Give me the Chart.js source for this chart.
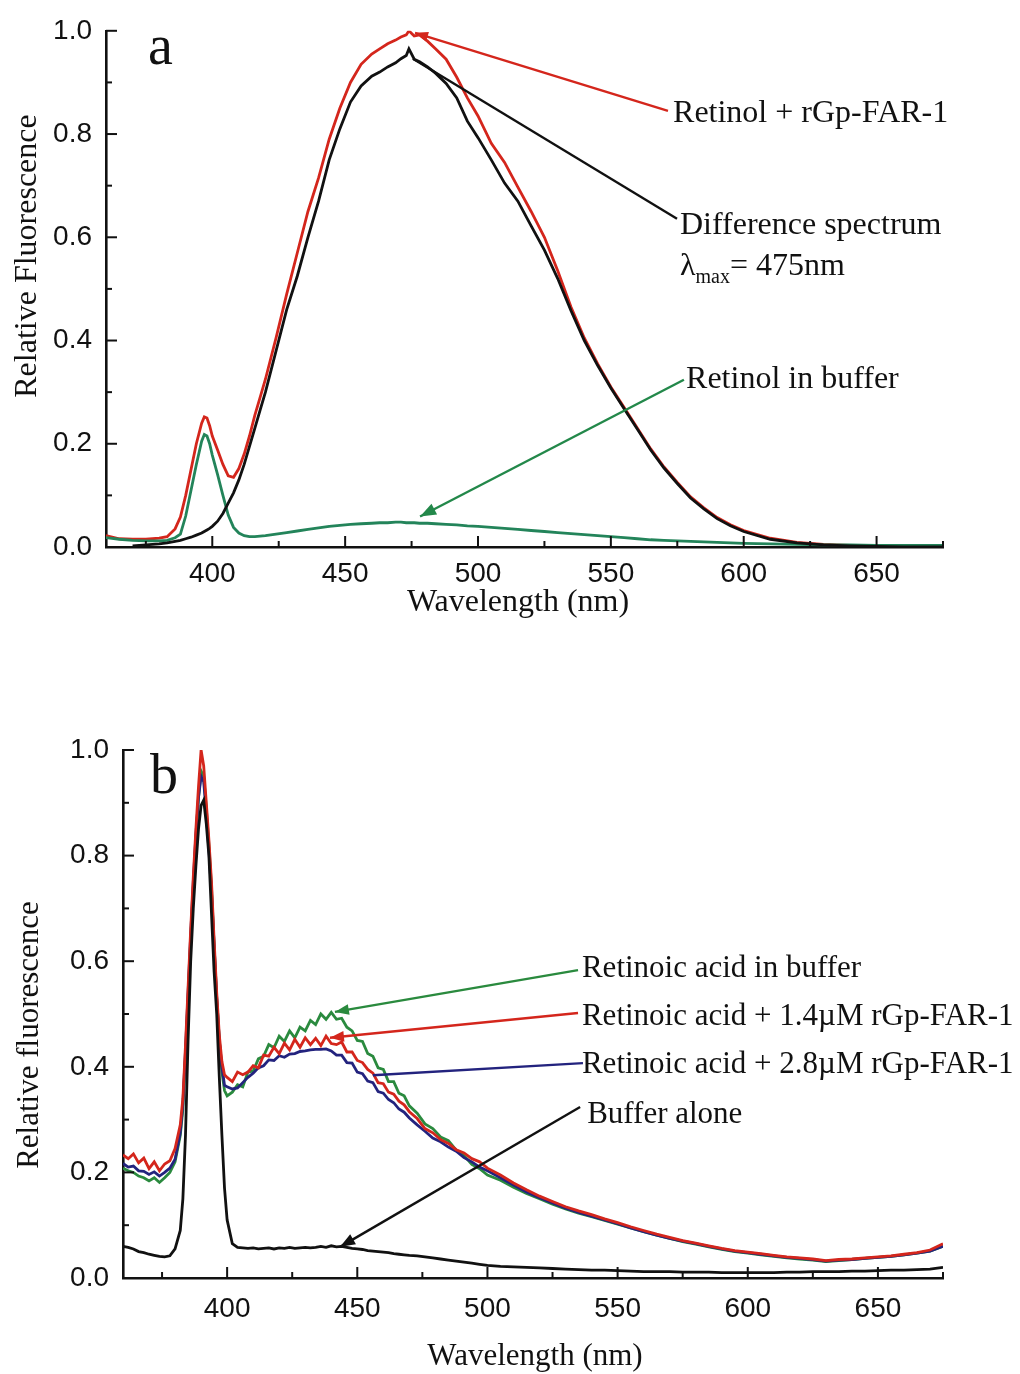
<!DOCTYPE html>
<html>
<head>
<meta charset="utf-8">
<title>Retinol / retinoic acid fluorescence</title>
<script src="https://cdn.jsdelivr.net/npm/chart.js@4.4.1/dist/chart.umd.min.js"></script>
<style>
  body { margin: 0; background: #fff; }
  .panel { position: absolute; left: 0; width: 1020px; }
  #panelA { top: 0; height: 640px; }
  #panelB { top: 680px; height: 694px; }
</style>
</head>
<body>
<div class="panel" id="panelA"><canvas id="chartA"></canvas></div>
<div class="panel" id="panelB"><canvas id="chartB"></canvas></div>
<script>
// ---- panel a: retinol ----
const wavelengthA = [360, 365, 370, 375, 380, 383, 386, 388, 390, 392, 394, 396, 397, 398, 399, 400,
  402, 404, 406, 408, 410, 412, 414, 416, 418, 420, 424, 428, 432, 436, 440, 444, 448, 452, 456, 460,
  463, 466, 469, 471, 473, 474, 476, 478, 481, 484, 488, 492, 496, 500,
  505, 510, 515, 520, 525, 530, 535, 540, 545, 550, 555, 560, 565, 570, 575, 580, 585, 590, 595, 600,
  610, 620, 630, 640, 650, 660, 675];

const retinolFar = [0.022, 0.016, 0.015, 0.015, 0.017, 0.02, 0.035, 0.058, 0.1, 0.15, 0.2, 0.24, 0.252, 0.25, 0.235, 0.215,
  0.188, 0.16, 0.138, 0.135, 0.152, 0.18, 0.215, 0.255, 0.29, 0.325, 0.405, 0.49, 0.57, 0.65, 0.715, 0.79, 0.85, 0.9, 0.935, 0.955,
  0.965, 0.975, 0.982, 0.988, 0.992, 1.0, 0.99, 0.992, 0.98, 0.965, 0.945, 0.91, 0.87, 0.835,
  0.782, 0.745, 0.697, 0.65, 0.6, 0.535, 0.465, 0.405, 0.355, 0.31, 0.27, 0.23, 0.19, 0.155, 0.125, 0.097, 0.076, 0.057, 0.043, 0.032,
  0.017, 0.009, 0.005, 0.003, 0.002, 0.001, 0.001];

const differenceSpectrum = [null, null, 0.002, 0.004, 0.006, 0.008, 0.011, 0.013, 0.016, 0.019, 0.023, 0.027, 0.03, 0.033, 0.036, 0.04,
  0.05, 0.065, 0.085, 0.105, 0.13, 0.16, 0.195, 0.23, 0.265, 0.3, 0.38, 0.46, 0.525, 0.6, 0.67, 0.75, 0.81, 0.862, 0.893, 0.912,
  0.92, 0.93, 0.938, 0.946, 0.952, 0.965, 0.945, 0.94, 0.93, 0.918, 0.898, 0.87, 0.825, 0.793,
  0.75, 0.705, 0.67, 0.622, 0.575, 0.52, 0.458, 0.4, 0.352, 0.308, 0.268, 0.228, 0.188, 0.153, 0.123, 0.095, 0.074, 0.055, 0.041, 0.03,
  0.015, 0.008, 0.004, 0.002, 0.001, 0, 0];

const retinolBuffer = [0.018, 0.015, 0.013, 0.012, 0.012, 0.013, 0.018, 0.025, 0.06, 0.11, 0.16, 0.205, 0.218, 0.215, 0.2, 0.178,
  0.14, 0.1, 0.062, 0.038, 0.027, 0.022, 0.02, 0.02, 0.021, 0.022, 0.025, 0.028, 0.031, 0.034, 0.037, 0.04, 0.042, 0.044, 0.045, 0.046,
  0.047, 0.047, 0.048, 0.048, 0.047, 0.047, 0.047, 0.046, 0.046, 0.045, 0.044, 0.043, 0.041, 0.04,
  0.038, 0.036, 0.034, 0.032, 0.03, 0.028, 0.026, 0.024, 0.022, 0.02, 0.018, 0.016, 0.014, 0.013, 0.012, 0.011, 0.01, 0.009, 0.008, 0.007,
  0.006, 0.005, 0.004, 0.004, 0.003, 0.003, 0.003];

// ---- panel b: retinoic acid ----
const wavelengthB = [360, 362, 364, 366, 368, 370, 372, 374, 376, 378, 380, 382,
  383, 384, 385, 386, 387, 388, 389, 390, 391, 392, 393, 394, 395, 396, 397, 398, 399, 400,
  402, 404, 406, 408, 410, 412, 414, 416, 418, 420, 422, 424, 426, 428, 430, 432, 434, 436, 438, 440,
  442, 444, 446, 448, 450, 452, 454, 456, 458, 460, 462, 464, 466, 468, 470,
  473, 476, 479, 482, 485, 488, 491, 494, 497, 500,
  505, 510, 515, 520, 525, 530, 535, 540, 545, 550, 555, 560, 565, 570, 575, 580, 585, 590, 595, 600,
  605, 610, 615, 620, 625, 630, 635, 640, 645, 650, 655, 660, 665, 670, 675];

const retinoicBuffer = [0.208, 0.203, 0.2, 0.193, 0.19, 0.184, 0.19, 0.181, 0.19, 0.2, 0.22, 0.27,
  0.32, 0.42, 0.53, 0.64, 0.74, 0.83, 0.91, 0.96, 0.95, 0.89, 0.82, 0.74, 0.63, 0.53, 0.45, 0.39, 0.355, 0.345,
  0.352, 0.366, 0.362, 0.39, 0.392, 0.415, 0.42, 0.442, 0.436, 0.458, 0.448, 0.468, 0.455, 0.475, 0.468, 0.488, 0.48, 0.5, 0.49, 0.503,
  0.49, 0.492, 0.475, 0.468, 0.45, 0.448, 0.425, 0.42, 0.398, 0.395, 0.372, 0.372, 0.35, 0.345, 0.326,
  0.312, 0.292, 0.283, 0.267, 0.26, 0.242, 0.232, 0.215, 0.207, 0.195,
  0.185, 0.172, 0.16, 0.15, 0.14, 0.131, 0.123, 0.116, 0.109, 0.102, 0.095, 0.088, 0.081, 0.075, 0.069, 0.064, 0.059, 0.054, 0.05, 0.047,
  0.044, 0.041, 0.038, 0.036, 0.034, 0.031, 0.033, 0.035, 0.037, 0.039, 0.041, 0.044, 0.047, 0.051, 0.06];

const retinoic14 = [0.233, 0.226, 0.235, 0.218, 0.227, 0.207, 0.22, 0.203, 0.216, 0.222, 0.245, 0.29,
  0.34, 0.44, 0.55, 0.66, 0.76, 0.85, 0.93, 1.0, 0.97, 0.9, 0.83, 0.75, 0.64, 0.54, 0.46, 0.41, 0.385, 0.38,
  0.372, 0.39, 0.385, 0.39, 0.402, 0.398, 0.422, 0.42, 0.437, 0.425, 0.445, 0.432, 0.452, 0.437, 0.455, 0.442, 0.454, 0.44, 0.458, 0.444,
  0.442, 0.447, 0.428, 0.428, 0.412, 0.408, 0.395, 0.388, 0.37, 0.368, 0.352, 0.348, 0.335, 0.328, 0.315,
  0.302, 0.283, 0.275, 0.262, 0.255, 0.243, 0.237, 0.226, 0.22, 0.208,
  0.195, 0.18, 0.167, 0.155, 0.145, 0.135, 0.127, 0.12, 0.112, 0.105, 0.097, 0.09, 0.083, 0.077, 0.071, 0.066, 0.061, 0.056, 0.052, 0.049,
  0.046, 0.043, 0.04, 0.038, 0.036, 0.033, 0.035, 0.036, 0.038, 0.04, 0.042, 0.045, 0.048, 0.053, 0.065];

const retinoic28 = [0.217, 0.21, 0.212, 0.203, 0.202, 0.196, 0.201, 0.193, 0.2, 0.208, 0.225, 0.275,
  0.33, 0.43, 0.54, 0.65, 0.75, 0.84, 0.91, 0.95, 0.94, 0.88, 0.81, 0.73, 0.63, 0.53, 0.45, 0.4, 0.365, 0.362,
  0.358, 0.36, 0.37, 0.38, 0.388, 0.398, 0.402, 0.413, 0.412, 0.421, 0.418, 0.424, 0.425, 0.429, 0.43, 0.432, 0.433, 0.433, 0.434, 0.43,
  0.422, 0.422, 0.408, 0.407, 0.39, 0.387, 0.373, 0.37, 0.353, 0.35, 0.338, 0.332, 0.32, 0.314, 0.303,
  0.29, 0.278, 0.265, 0.258, 0.248, 0.24, 0.228, 0.22, 0.21, 0.203,
  0.19, 0.176, 0.163, 0.152, 0.142, 0.132, 0.124, 0.117, 0.11, 0.103, 0.095, 0.088, 0.081, 0.075, 0.07, 0.065, 0.06, 0.055, 0.051, 0.048,
  0.045, 0.042, 0.039, 0.037, 0.035, 0.032, 0.034, 0.035, 0.037, 0.039, 0.041, 0.044, 0.047, 0.051, 0.06];

const bufferAlone = [0.06, 0.058, 0.055, 0.05, 0.048, 0.045, 0.043, 0.041, 0.04, 0.042, 0.055, 0.09,
  0.15, 0.27, 0.45, 0.6, 0.7, 0.78, 0.85, 0.895, 0.905, 0.86, 0.8, 0.69, 0.58, 0.5, 0.38, 0.27, 0.17, 0.11,
  0.065, 0.058, 0.057, 0.056, 0.057, 0.055, 0.056, 0.057, 0.055, 0.057, 0.056, 0.058, 0.056, 0.057, 0.058, 0.057, 0.058, 0.06, 0.058, 0.061,
  0.059, 0.06, 0.058, 0.056, 0.055, 0.054, 0.052, 0.051, 0.05, 0.049, 0.048, 0.046, 0.045, 0.044, 0.043,
  0.042, 0.04, 0.038, 0.036, 0.034, 0.032, 0.03, 0.028, 0.026, 0.024,
  0.022, 0.021, 0.02, 0.019, 0.018, 0.017, 0.016, 0.015, 0.015, 0.014, 0.013, 0.012, 0.012, 0.012, 0.011, 0.011, 0.011, 0.01, 0.01, 0.01,
  0.01, 0.01, 0.011, 0.011, 0.012, 0.012, 0.012, 0.013, 0.013, 0.014, 0.015, 0.015, 0.016, 0.017, 0.02];

// ---- axes (shared by both panels) ----
const xRange = [360, 675];
const xTickValues = [400, 450, 500, 550, 600, 650];
const yRange = [0, 1.0];
const yTickValues = [0, 0.2, 0.4, 0.6, 0.8, 1.0];

const INK = '#111111';
const RED = '#d4261c';
const SERIF = '"Liberation Serif", "Times New Roman", serif';
const SANS = '"Liberation Sans", Arial, sans-serif';

// turn parallel arrays into {x, y} points
function toPoints(xs, ys) {
    return xs.map((x, i) => ({ x: x, y: ys[i] }));
}

function lineSet(label, xs, ys, color) {
    return {
        label: label,
        data: toPoints(xs, ys),
        borderColor: color,
        borderWidth: 2.8,
        pointRadius: 0,
        tension: 0,
        fill: false
    };
}

// draws inward minor/major ticks, axis titles, panel letter and the labelled leader lines
const panelDecor = {
    id: 'panelDecor',
    afterDraw(chart, args, opts) {
        const { ctx, chartArea, scales: { x, y } } = chart;
        ctx.save();

        // ticks point into the plot
        ctx.strokeStyle = INK;
        ctx.lineWidth = 2;
        for (let v = 375; v <= 675; v += 25) {
            const px = x.getPixelForValue(v);
            const len = v % 50 === 0 ? 11 : 6;
            ctx.beginPath();
            ctx.moveTo(px, chartArea.bottom);
            ctx.lineTo(px, chartArea.bottom - len);
            ctx.stroke();
        }
        for (let i = 0; i <= 10; i++) {
            const py = y.getPixelForValue(i / 10);
            const len = i % 2 === 0 ? 11 : 6;
            ctx.beginPath();
            ctx.moveTo(chartArea.left, py);
            ctx.lineTo(chartArea.left + len, py);
            ctx.stroke();
        }

        // axis titles
        ctx.fillStyle = INK;
        ctx.font = opts.titleSize + 'px ' + SERIF;
        ctx.textAlign = 'center';
        ctx.textBaseline = 'middle';
        ctx.fillText('Wavelength (nm)', opts.xTitle.x, opts.xTitle.y);
        ctx.save();
        ctx.translate(opts.yTitle.x, opts.yTitle.y);
        ctx.rotate(-Math.PI / 2);
        ctx.fillText(opts.yTitle.text, 0, 0);
        ctx.restore();

        // panel letter
        ctx.textAlign = 'left';
        ctx.textBaseline = 'alphabetic';
        ctx.font = '56px ' + SERIF;
        ctx.fillText(opts.letter.text, x.getPixelForValue(opts.letter.at[0]), y.getPixelForValue(opts.letter.at[1]));

        // leader lines with arrow heads
        opts.leaders.forEach(l => {
            const x0 = x.getPixelForValue(l.from[0]), y0 = y.getPixelForValue(l.from[1]);
            const x1 = x.getPixelForValue(l.to[0]), y1 = y.getPixelForValue(l.to[1]);
            ctx.strokeStyle = l.color;
            ctx.fillStyle = l.color;
            ctx.lineWidth = 2.4;
            ctx.beginPath();
            ctx.moveTo(x0, y0);
            ctx.lineTo(x1, y1);
            ctx.stroke();
            if (l.head) {
                const ang = Math.atan2(y1 - y0, x1 - x0);
                const hl = l.head, hw = l.head * 0.38;
                ctx.beginPath();
                ctx.moveTo(x1, y1);
                ctx.lineTo(x1 - hl * Math.cos(ang) + hw * Math.sin(ang), y1 - hl * Math.sin(ang) - hw * Math.cos(ang));
                ctx.lineTo(x1 - hl * Math.cos(ang) - hw * Math.sin(ang), y1 - hl * Math.sin(ang) + hw * Math.cos(ang));
                ctx.closePath();
                ctx.fill();
            }
        });

        // label texts (segments allow a subscript)
        ctx.fillStyle = INK;
        opts.labels.forEach(t => {
            let px = x.getPixelForValue(t.at[0]);
            const py = y.getPixelForValue(t.at[1]);
            t.parts.forEach(p => {
                ctx.font = (p.sub ? '20px ' : opts.labelSize + 'px ') + SERIF;
                ctx.fillText(p.text, px, py + (p.sub ? 8 : 0));
                px += ctx.measureText(p.text).width;
            });
        });

        ctx.restore();
    }
};

function buildOptions(yAxisWidth, xAxisHeight, padTop, xLabelPad, decor) {
    return {
        responsive: true,
        maintainAspectRatio: false,
        animation: false,
        layout: { padding: { left: 0, top: padTop, right: 77, bottom: 0 } },
        plugins: {
            legend: { display: false },
            tooltip: { enabled: false },
            panelDecor: decor
        },
        scales: {
            x: {
                type: 'linear',
                min: xRange[0],
                max: xRange[1],
                afterBuildTicks: scale => { scale.ticks = xTickValues.map(v => ({ value: v })); },
                afterFit: scale => { scale.height = xAxisHeight; },
                grid: { display: false, drawTicks: false },
                border: { display: true, color: INK, width: 2.6 },
                ticks: { color: INK, font: { family: SANS, size: 28 }, padding: xLabelPad, maxRotation: 0 }
            },
            y: {
                type: 'linear',
                min: yRange[0],
                max: yRange[1],
                afterBuildTicks: scale => { scale.ticks = yTickValues.map(v => ({ value: v })); },
                afterFit: scale => { scale.width = yAxisWidth; },
                grid: { display: false, drawTicks: false },
                border: { display: true, color: INK, width: 2.6 },
                ticks: { color: INK, font: { family: SANS, size: 28 }, padding: 14, callback: v => v.toFixed(1) }
            }
        }
    };
}

document.addEventListener('DOMContentLoaded', function() {
    Chart.register(panelDecor);

    // Panel a
    new Chart(document.getElementById('chartA'), {
        type: 'line',
        data: {
            datasets: [
                lineSet('Difference spectrum', wavelengthA, differenceSpectrum, INK),
                lineSet('Retinol in buffer', wavelengthA, retinolBuffer, '#23845a'),
                lineSet('Retinol + rGp-FAR-1', wavelengthA, retinolFar, RED)
            ]
        },
        options: buildOptions(106, 93, 25, 10, {
            titleSize: 32,
            labelSize: 32,
            xTitle: { x: 518, y: 603 },
            yTitle: { x: 28, y: 256, text: 'Relative Fluorescence' },
            letter: { text: 'a', at: [375.8, 0.935] },
            leaders: [
                { from: [571.5, 0.845], to: [476.3, 0.996], color: RED, head: 13 },
                { from: [574.9, 0.636], to: [475.5, 0.946], color: INK, head: 0 },
                { from: [577.5, 0.324], to: [478.2, 0.059], color: '#23884a', head: 16 }
            ],
            labels: [
                { at: [573.4, 0.824], parts: [{ text: 'Retinol + rGp-FAR-1' }] },
                { at: [576.0, 0.607], parts: [{ text: 'Difference spectrum' }] },
                { at: [576.0, 0.527], parts: [{ text: 'λ' }, { text: 'max', sub: true }, { text: '= 475nm' }] },
                { at: [578.3, 0.308], parts: [{ text: 'Retinol in buffer' }] }
            ]
        })
    });

    // Panel b
    new Chart(document.getElementById('chartB'), {
        type: 'line',
        data: {
            datasets: [
                lineSet('Buffer alone', wavelengthB, bufferAlone, INK),
                lineSet('Retinoic acid + 1.4µM rGp-FAR-1', wavelengthB, retinoic14, RED),
                lineSet('Retinoic acid + 2.8µM rGp-FAR-1', wavelengthB, retinoic28, '#23237e'),
                lineSet('Retinoic acid in buffer', wavelengthB, retinoicBuffer, '#2a8a3e')
            ]
        },
        options: buildOptions(123, 96, 70, 14, {
            titleSize: 31,
            labelSize: 31,
            xTitle: { x: 535, y: 677 },
            yTitle: { x: 30, y: 355, text: 'Relative fluorescence' },
            letter: { text: 'b', at: [370.4, 0.919] },
            leaders: [
                { from: [534.8, 0.583], to: [441.4, 0.504], color: '#2a8a3e', head: 14 },
                { from: [534.8, 0.502], to: [439.5, 0.455], color: RED, head: 14 },
                { from: [536.7, 0.407], to: [456.0, 0.384], color: '#23237e', head: 0 },
                { from: [535.6, 0.324], to: [443.4, 0.059], color: INK, head: 15 }
            ],
            labels: [
                { at: [536.3, 0.570], parts: [{ text: 'Retinoic acid in buffer' }] },
                { at: [536.3, 0.479], parts: [{ text: 'Retinoic acid + 1.4µM rGp-FAR-1' }] },
                { at: [536.3, 0.388], parts: [{ text: 'Retinoic acid + 2.8µM rGp-FAR-1' }] },
                { at: [538.3, 0.294], parts: [{ text: 'Buffer alone' }] }
            ]
        })
    });
});
</script>
</body>
</html>
